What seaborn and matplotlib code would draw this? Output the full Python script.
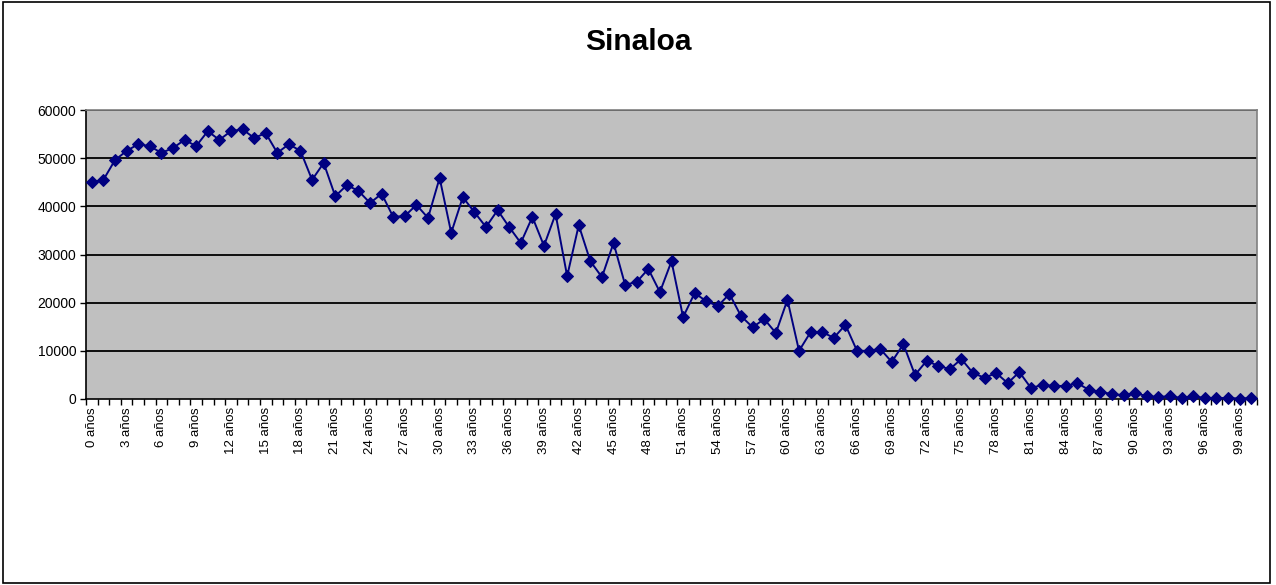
import matplotlib
matplotlib.use("Agg")
import matplotlib.pyplot as plt
from matplotlib.patches import Rectangle
from matplotlib.ticker import FixedLocator, NullFormatter
import seaborn as sns
import pandas as pd

# Population by single year of age, Sinaloa
ages = list(range(0, 101))
population = [
    45000, 45500, 49600, 51500, 52900, 52500, 51100, 52100, 53800, 52500,
    55600, 53800, 55600, 56000, 54200, 55200, 51100, 52900, 51500, 45500,
    49000, 42100, 44400, 43200, 40700, 42600, 37800, 38000, 40300, 37600,
    45900, 34500, 41900, 38800, 35700, 39200, 35700, 32400, 37800, 31800,
    38400, 25500, 36100, 28600, 25300, 32400, 23700, 24300, 27000, 22200,
    28600, 17000, 22000, 20300, 19300, 21800, 17200, 14900, 16600, 13700,
    20600, 10000, 13900, 13900, 12700, 15400, 10000, 10000, 10400, 7700,
    11400, 5000, 7900, 6900, 6200, 8300, 5400, 4400, 5400, 3300,
    5600, 2300, 2900, 2700, 2700, 3300, 1900, 1500, 1000, 800,
    1200, 600, 400, 600, 200, 600, 200, 200, 200, 100,
    200,
]
title = "Sinaloa"
y_ticks = [0, 10000, 20000, 30000, 40000, 50000, 60000]
label_ages = list(range(0, 101, 3))
x_labels = [f"{a} años" for a in label_ages]

df = pd.DataFrame({"edad": ages, "poblacion": population})

sns.set_theme(style="white")
plt.rcParams["font.family"] = ["Liberation Sans", "DejaVu Sans"]
plt.rcParams["text.color"] = "black"
plt.rcParams["xtick.color"] = "black"
plt.rcParams["ytick.color"] = "black"
plt.rcParams["xtick.labelcolor"] = "black"
plt.rcParams["ytick.labelcolor"] = "black"

W, H = 1276, 585
fig = plt.figure(figsize=(W / 100, H / 100), dpi=100)
fig.patch.set_facecolor("white")

left, right, top, bottom = 86, 1257, 110, 399
ax = fig.add_axes([left / W, 1 - bottom / H, (right - left) / W, (bottom - top) / H])
ax.set_facecolor("#C0C0C0")

for yv in y_ticks[1:]:
    ax.axhline(yv, color="black", lw=1.3, zorder=1)

sns.lineplot(
    data=df, x="edad", y="poblacion", ax=ax,
    color="#000080", lw=1.4, marker="D", markersize=6.5,
    markeredgecolor="#000080", markerfacecolor="#000080", zorder=3,
    clip_on=False,
)

ax.set_xlim(-0.5, 100.5)
ax.set_ylim(0, 60000)
ax.set_xlabel("")
ax.set_ylabel("")

ax.set_xticks(label_ages)
ax.set_xticklabels(x_labels, rotation=90, fontsize=9.5, color="black")
ax.xaxis.set_minor_locator(FixedLocator([k - 0.5 for k in range(0, 102)]))
ax.xaxis.set_minor_formatter(NullFormatter())
ax.tick_params(axis="x", which="major", length=0, pad=6)
ax.tick_params(axis="x", which="minor", length=4, width=1, color="black",
               direction="out", bottom=True)

ax.set_yticks(y_ticks)
ax.set_yticklabels([str(v) for v in y_ticks], fontsize=10, color="black")
ax.tick_params(axis="y", which="major", length=4, width=1, color="black",
               direction="out", left=True, pad=3)

for side in ("left", "bottom"):
    ax.spines[side].set_color("black")
    ax.spines[side].set_linewidth(1.2)
for side in ("top", "right"):
    ax.spines[side].set_color("#808080")
    ax.spines[side].set_linewidth(1.2)

fig.text(638 / W, 1 - 42 / H, title, ha="center", va="center",
         fontsize=21.5, fontweight="bold", color="black")

fig.add_artist(Rectangle((3 / W, 2 / H), (1270 - 3) / W, (583 - 2) / H,
                         transform=fig.transFigure, fill=False,
                         edgecolor="black", lw=1.2))

fig.savefig("out.png", dpi=100)
